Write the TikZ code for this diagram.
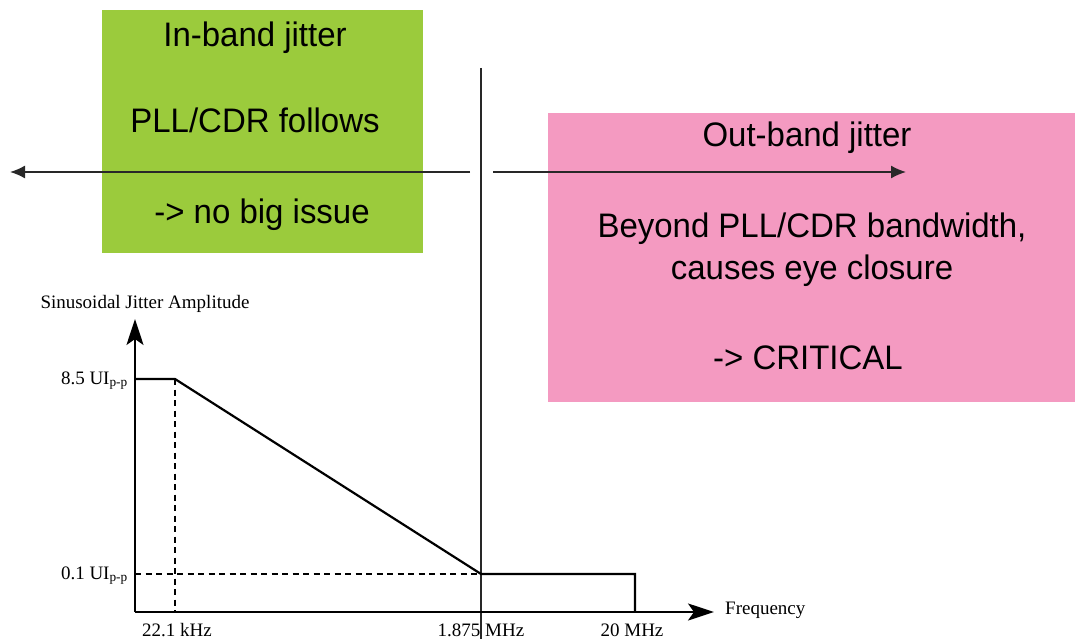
\documentclass[tikz,border=0pt]{standalone}
\usepackage{fontspec}
\setmainfont{Liberation Serif}
\newfontfamily\boxfont[FakeStretch=0.97]{Liberation Sans}
\usetikzlibrary{arrows.meta}
\definecolor{bandgreen}{RGB}{155,203,60}
\definecolor{bandpink}{RGB}{244,154,193}
\definecolor{linegray}{RGB}{40,40,40}
\begin{document}
\begin{tikzpicture}[x=1pt,y=-1pt,
  boxtxt/.style={font=\boxfont\fontsize{34}{34}\selectfont, anchor=base, inner sep=0pt},
  lbl/.style={font=\fontsize{19}{20}\selectfont, inner sep=0pt},
  band/.style={draw=none, inner sep=0pt, anchor=north west},
  curve/.style={line width=2.2pt, black},
  guide/.style={line width=1.6pt, dash pattern=on 6pt off 4.5pt, black},
  axisarrow/.style={line width=2.2pt, -{Stealth[length=26pt,width=17pt,inset=6pt]}},
  toparrow/.style={line width=1.5pt, linegray, -{Latex[length=15pt,width=13pt]}}
]
\useasboundingbox (0,0) rectangle (1075,639);
% boxes
\node[band, fill=bandgreen, minimum width=321pt, minimum height=243pt] (green) at (102,10) {};
\node[band, fill=bandpink, minimum width=527pt, minimum height=289pt] (pink) at (548,113) {};
% box texts
\node[boxtxt] (t1) at (255,47) {In-band jitter};
\node[boxtxt] (t2) at (255,133) {PLL/CDR follows};
\node[boxtxt] (t3) at (262,223) {-> no big issue};
\node[boxtxt] (t4) at (807,147) {Out-band jitter};
\node[boxtxt] (t5) at (812,237) {Beyond PLL/CDR bandwidth,};
\node[boxtxt] (t6) at (812,279) {causes eye closure};
\node[boxtxt] (t7) at (808,369) {-> CRITICAL};
% top arrows and divider
\coordinate (la) at (470,172);
\coordinate (lb) at (10,172);
\coordinate (ra) at (493,172);
\coordinate (rb) at (906,172);
\draw[toparrow] (la) -- (lb);
\draw[toparrow] (ra) -- (rb);
\coordinate (vtop) at (481,68);
\coordinate (vbot) at (481,639);
\draw[line width=1.5pt, linegray] (vtop) -- (vbot);
% chart
\coordinate (O) at (135,612);
\coordinate (ytip) at (135,319);
\coordinate (xtip) at (714,612);
\coordinate (p1) at (135,379);
\coordinate (p2) at (175,379);
\coordinate (p3) at (481,574);
\coordinate (p4) at (635,574);
\coordinate (p5) at (635,612);
\coordinate (d1) at (175,612);
\coordinate (d2) at (135,574);
\draw[guide] (p2) -- (d1);
\draw[guide] (d2) -- (p3);
\draw[curve] (p1) -- (p2) -- (p3) -- (p4) -- (p5);
\draw[axisarrow] (O) -- (ytip);
\draw[axisarrow] (O) -- (xtip);
% labels
\node[lbl, anchor=base] (ylab) at (145,308) {Sinusoidal Jitter Amplitude};
\node[lbl, anchor=base east] (l85) at (128,384) {8.5 UI\textsubscript{p-p}};
\node[lbl, anchor=base east] (l01) at (128,579) {0.1 UI\textsubscript{p-p}};
\node[lbl, anchor=base] (f1) at (177,636) {22.1 kHz};
\node[lbl, anchor=base] (f2) at (481,636) {1.875 MHz};
\node[lbl, anchor=base] (f3) at (632,636) {20 MHz};
\node[lbl, anchor=base west] (xlab) at (725,614) {Frequency};
\end{tikzpicture}
\end{document}
